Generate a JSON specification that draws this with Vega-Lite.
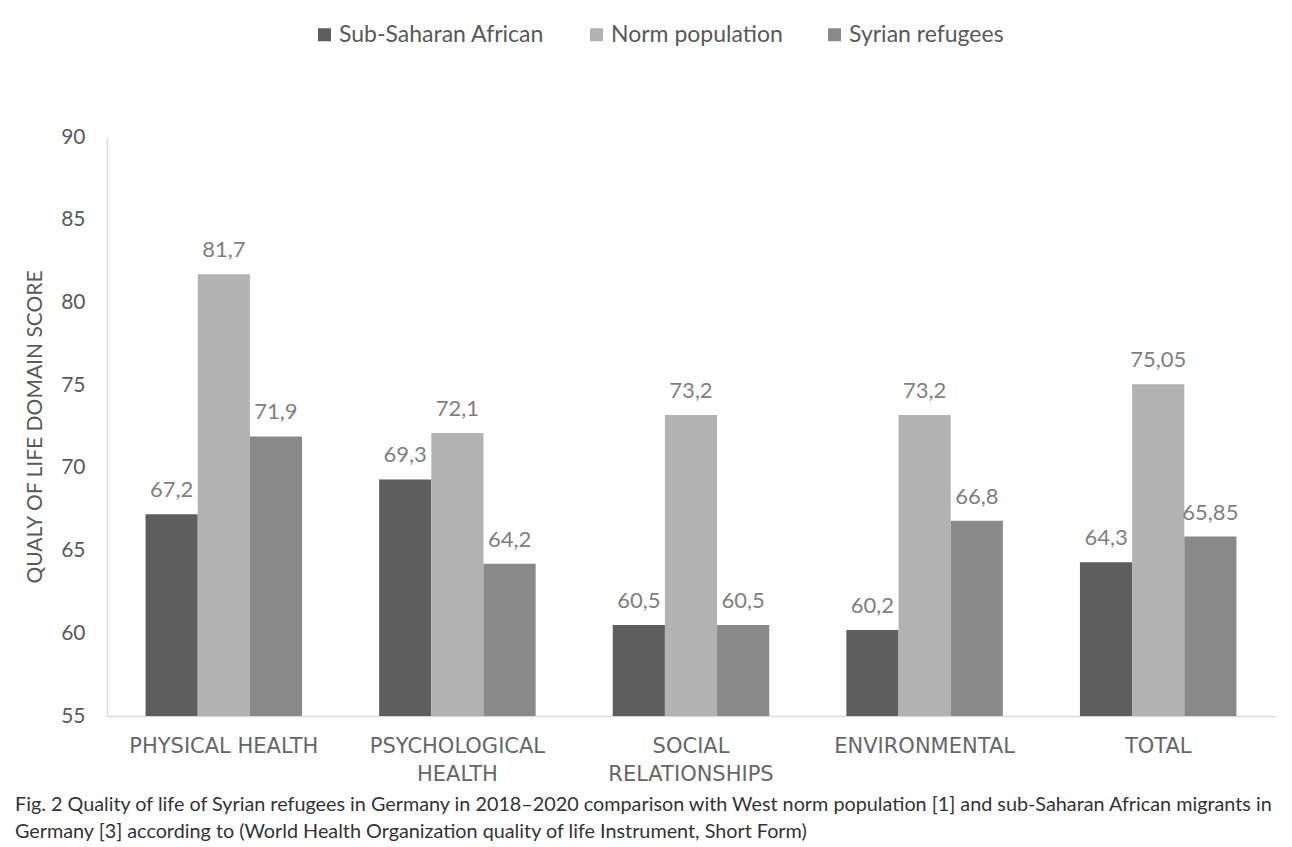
{
  "$schema": "https://vega.github.io/schema/vega-lite/v6.json",
  "width": 1168,
  "height": 579,
  "autosize": {"type": "none"},
  "padding": {"left": 107, "top": 137, "right": 17, "bottom": 131},
  "background": "white",
  "config": {
    "locale": {"number": {"decimal": ",", "thousands": ".", "grouping": [3], "currency": ["", " €"]}},
    "view": {"stroke": null},
    "font": "Lato"
  },
  "title": {
    "text": ["Fig. 2 Quality of life of Syrian refugees in Germany in 2018–2020 comparison with West norm population [1] and sub-Saharan African migrants in", "Germany [3] according to (World Health Organization quality of life Instrument, Short Form)"],
    "orient": "bottom",
    "anchor": "start",
    "frame": "group",
    "dx": -92,
    "offset": 11,
    "font": "Lato",
    "fontSize": 19.8,
    "fontWeight": "normal",
    "color": "#333333",
    "lineHeight": 27
  },
  "data": {
    "values": [
      {"domain": "PHYSICAL HEALTH", "group": "Sub-Saharan African", "score": 67.2},
      {"domain": "PHYSICAL HEALTH", "group": "Norm population", "score": 81.7},
      {"domain": "PHYSICAL HEALTH", "group": "Syrian refugees", "score": 71.9},
      {"domain": "PSYCHOLOGICAL HEALTH", "group": "Sub-Saharan African", "score": 69.3},
      {"domain": "PSYCHOLOGICAL HEALTH", "group": "Norm population", "score": 72.1},
      {"domain": "PSYCHOLOGICAL HEALTH", "group": "Syrian refugees", "score": 64.2},
      {"domain": "SOCIAL RELATIONSHIPS", "group": "Sub-Saharan African", "score": 60.5},
      {"domain": "SOCIAL RELATIONSHIPS", "group": "Norm population", "score": 73.2},
      {"domain": "SOCIAL RELATIONSHIPS", "group": "Syrian refugees", "score": 60.5},
      {"domain": "ENVIRONMENTAL", "group": "Sub-Saharan African", "score": 60.2},
      {"domain": "ENVIRONMENTAL", "group": "Norm population", "score": 73.2},
      {"domain": "ENVIRONMENTAL", "group": "Syrian refugees", "score": 66.8},
      {"domain": "TOTAL", "group": "Sub-Saharan African", "score": 64.3},
      {"domain": "TOTAL", "group": "Norm population", "score": 75.05},
      {"domain": "TOTAL", "group": "Syrian refugees", "score": 65.85}
    ]
  },
  "encoding": {
    "x": {
      "field": "domain",
      "type": "nominal",
      "sort": null,
      "scale": {"paddingInner": 0.33, "paddingOuter": 0.165},
      "axis": {
        "title": null,
        "labelAngle": 0,
        "labelExpr": "datum.label == 'PHYSICAL HEALTH' || datum.label == 'ENVIRONMENTAL' || datum.label == 'TOTAL' ? datum.label : split(datum.label, ' ')",
        "labelFont": "DejaVu Sans",
        "labelFontSize": 21,
        "labelColor": "#666666",
        "labelPadding": 19,
        "labelLineHeight": 28,
        "labelLimit": 300,
        "ticks": false,
        "domainColor": "#d9d9d9",
        "domainWidth": 1.5
      }
    },
    "xOffset": {"field": "group", "type": "nominal", "sort": ["Sub-Saharan African", "Norm population", "Syrian refugees"], "scale": {"paddingInner": 0, "paddingOuter": 0}},
    "y": {
      "field": "score",
      "type": "quantitative",
      "scale": {"domain": [55, 90], "zero": false, "nice": false},
      "axis": {
        "title": "QUALY OF LIFE DOMAIN SCORE",
        "titleFont": "Lato",
        "titleFontSize": 21,
        "titleFontWeight": "normal",
        "titleColor": "#595959",
        "titlePadding": 15,
        "values": [55, 60, 65, 70, 75, 80, 85, 90],
        "labelFont": "Lato",
        "labelFontSize": 21,
        "labelColor": "#595959",
        "labelPadding": 22,
        "ticks": false,
        "grid": false,
        "domainColor": "#d9d9d9",
        "domainWidth": 1.5
      }
    }
  },
  "layer": [
    {
      "mark": {"type": "bar", "clip": true},
      "encoding": {
        "y2": {"datum": 55},
        "color": {
          "field": "group",
          "type": "nominal",
          "sort": ["Sub-Saharan African", "Norm population", "Syrian refugees"],
          "scale": {"domain": ["Sub-Saharan African", "Norm population", "Syrian refugees"], "range": ["#5e5e5e", "#b2b2b2", "#898989"]},
          "legend": {
            "title": null,
            "orient": "none",
            "direction": "horizontal",
            "legendX": 206,
            "legendY": -114,
            "symbolType": "square",
            "symbolSize": 169,
            "symbolStrokeWidth": 0,
            "labelFont": "Lato",
            "labelFontSize": 23,
            "labelColor": "#595959",
            "labelOffset": 3,
            "columnPadding": 40,
            "labelLimit": 400
          }
        }
      }
    },
    {
      "mark": {"type": "text", "baseline": "alphabetic", "dy": -17, "font": "Lato", "fontSize": 22, "color": "#7f7f7f"},
      "encoding": {
        "text": {"field": "score", "type": "quantitative", "format": ".2~f"}
      }
    }
  ]
}
